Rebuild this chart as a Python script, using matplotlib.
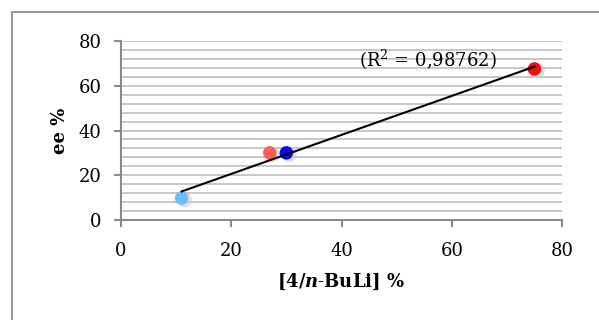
import numpy as np
import matplotlib
matplotlib.use("Agg")
import matplotlib.pyplot as plt
from matplotlib.lines import Line2D

# data
x_vals = [11, 27, 30, 75]
y_vals = [9.8, 30, 30, 67.5]
point_colors = ["#70bdfc", "#f75f5c", "#0a0ae6", "#f20c0c"]
r2_label = "(R$^2$ = 0,98762)"
x_ticks = [0, 20, 40, 60, 80]
y_ticks = [0, 20, 40, 60, 80]

plt.rcParams["font.family"] = ["DejaVu Serif"]
plt.rcParams["mathtext.fontset"] = "custom"
plt.rcParams["mathtext.rm"] = "DejaVu Serif"
plt.rcParams["mathtext.bf"] = "DejaVu Serif:bold"
plt.rcParams["mathtext.it"] = "DejaVu Serif:italic:bold"

fig = plt.figure(figsize=(5.99, 3.2), dpi=100)
ax = fig.add_axes([121/599, 1-220/320, (562-121)/599, (220-41)/320])

# outer frame (left and top edges visible)
fx = 11.5/599
fy = 1 - 11.5/320
fig.add_artist(Line2D([fx, fx], [0, fy], transform=fig.transFigure,
                      color="#9a9a9a", lw=1.5))
fig.add_artist(Line2D([fx, 1.01], [fy, fy], transform=fig.transFigure,
                      color="#9a9a9a", lw=1.5))

ax.set_xlim(0, 80)
ax.set_ylim(0, 80)
ax.set_xticks(x_ticks)
ax.set_yticks(y_ticks)
ax.set_yticks(np.arange(0, 81, 4), minor=True)
ax.tick_params(axis="y", which="minor", length=0)
ax.grid(True, axis="y", which="both", color="#bdbdbd", lw=1.2)
ax.set_axisbelow(True)
for s in ["top", "right"]:
    ax.spines[s].set_visible(False)
for s in ["left", "bottom"]:
    ax.spines[s].set_color("#8a8a8a")
    ax.spines[s].set_linewidth(1.5)
ax.tick_params(axis="both", which="major", direction="out", length=5,
               width=1.5, color="#8a8a8a", labelsize=13)
ax.tick_params(axis="y", pad=9)
ax.tick_params(axis="x", pad=11)

# shadows
ax.scatter(np.array(x_vals) + 0.5, np.array(y_vals) - 0.8, s=120,
           color="#cccccc", alpha=0.6, zorder=2, edgecolors="none")
ax.scatter(x_vals, y_vals, s=95, c=point_colors, zorder=3, edgecolors="none")

# linear fit
coef = np.polyfit(x_vals, y_vals, 1)
xf = np.array([min(x_vals), max(x_vals)])
ax.plot(xf, np.polyval(coef, xf), color="black", lw=1.5, zorder=4)

ax.text(55.7, 71.5, r2_label, fontsize=13, ha="center", va="center")

ax.set_xlabel(r"$\mathbf{[4/}\mathit{n}\mathbf{\text{-}BuLi]\ \%}$", fontsize=13, labelpad=8)
ax.set_ylabel("ee %", fontsize=13, fontweight="bold", labelpad=7)

fig.savefig("out.png", dpi=100)
